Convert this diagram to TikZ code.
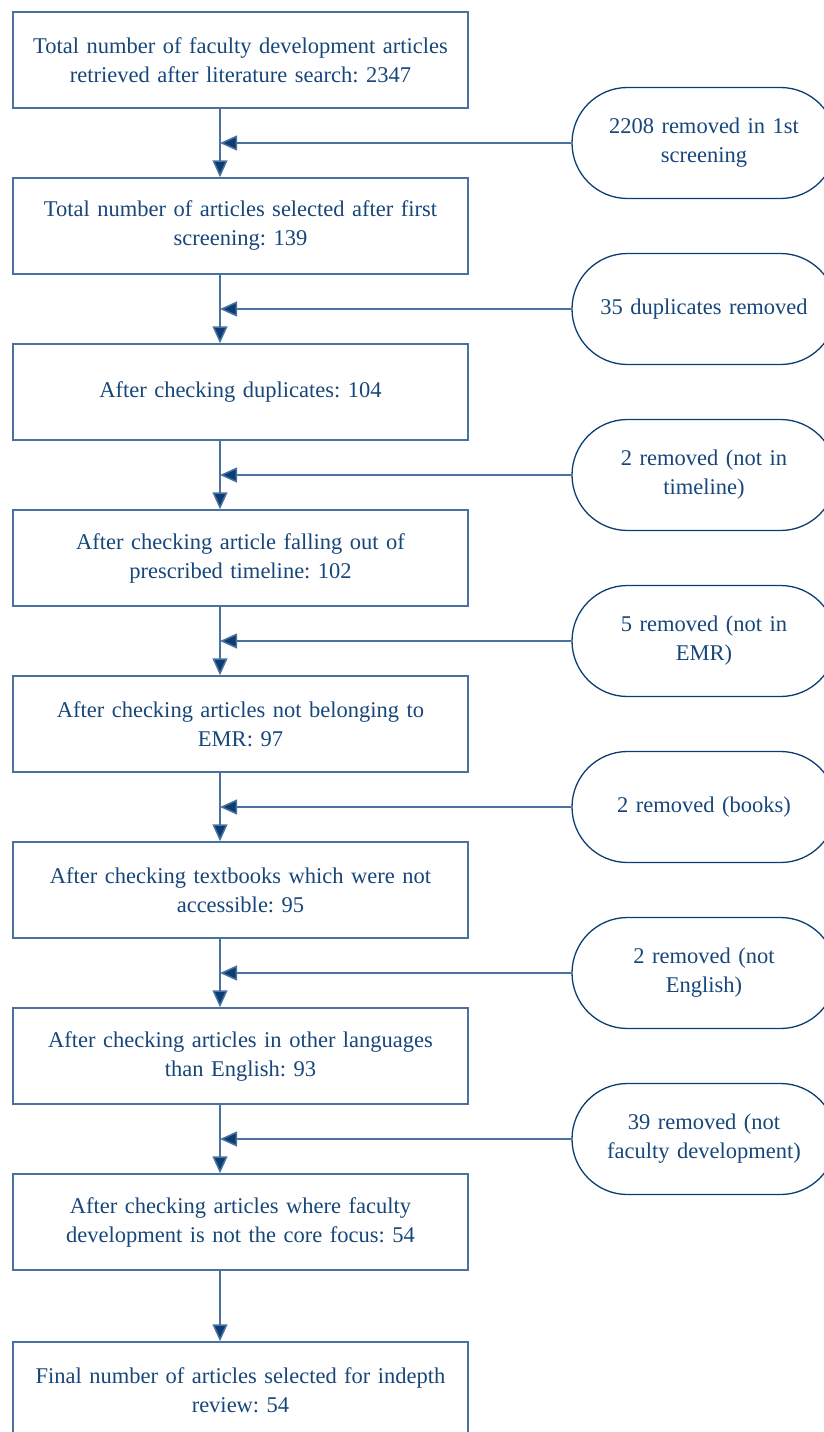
\documentclass[tikz,border=0pt]{standalone}
\usepackage{fontspec}
\setmainfont{Liberation Serif}
\usetikzlibrary{arrows.meta,shapes.misc}
\definecolor{txt}{HTML}{17467A}
\definecolor{edge}{HTML}{4A72A0}
\definecolor{arr}{HTML}{0B3D73}
\frenchspacing
\begin{document}
\begin{tikzpicture}[x=1pt,y=-1pt,
  box/.style={draw=edge,line width=1.5pt,minimum width=455pt,minimum height=96pt,
    text width=450pt,align=center,text=txt,font=\fontsize{22.5}{29}\selectfont,inner sep=0pt},
  caps/.style={draw=arr,line width=1.3pt,rounded rectangle,minimum width=264pt,minimum height=111pt,
    text width=250pt,align=center,text=txt,font=\fontsize{22.5}{29}\selectfont,inner sep=0pt},
  flow/.style={draw=edge,line width=1.5pt,-{Triangle[length=17pt,width=15pt,fill=arr]}}
]
\useasboundingbox (0,0) rectangle (824,1432);
\coordinate (ax) at (220,0);
\node[box] (b1) at (240.5,60) {Total number of faculty development articles\\retrieved after literature search: 2347};
\node[box] (b2) at (240.5,226) {Total number of articles selected after first\\screening: 139};
\node[box] (b3) at (240.5,392) {After checking duplicates: 104};
\node[box] (b4) at (240.5,558) {After checking article falling out of\\prescribed timeline: 102};
\node[box] (b5) at (240.5,724) {After checking articles not belonging to\\EMR: 97};
\node[box] (b6) at (240.5,890) {After checking textbooks which were not\\accessible: 95};
\node[box] (b7) at (240.5,1056) {After checking articles in other languages\\than English: 93};
\node[box] (b8) at (240.5,1222) {After checking articles where faculty\\development is not the core focus: 54};
\node[box] (b9) at (240.5,1390) {Final number of articles selected for indepth\\review: 54\\[20pt]};
\node[caps] (c1) at (704,143) {2208 removed in 1st\\screening};
\node[caps] (c2) at (704,309) {35 duplicates removed};
\node[caps] (c3) at (704,475) {2 removed (not in\\timeline)};
\node[caps] (c4) at (704,641) {5 removed (not in\\EMR)};
\node[caps] (c5) at (704,807) {2 removed (books)};
\node[caps] (c6) at (704,973) {2 removed (not\\English)};
\node[caps] (c7) at (704,1139) {39 removed (not\\faculty development)};
\foreach \a/\b in {b1/b2,b2/b3,b3/b4,b4/b5,b5/b6,b6/b7,b7/b8,b8/b9}
  \draw[flow] (\a.south -| ax) -- (\b.north -| ax);
\foreach \c in {c1,c2,c3,c4,c5,c6,c7}
  \draw[flow] (\c.west) -- (\c.west -| ax);
\end{tikzpicture}
\end{document}
